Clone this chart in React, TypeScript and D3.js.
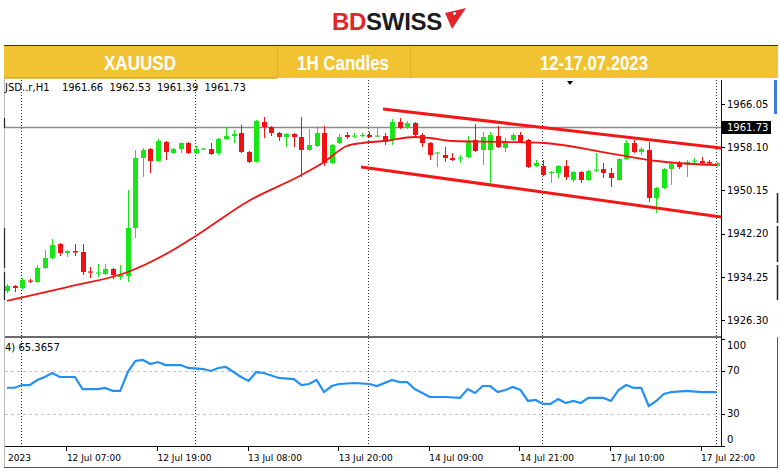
import React from "react";
import * as d3 from "d3";

// XAUUSD H1 candles, bar 0 .. 94
const opens = [
  1931.64, 1932.56, 1932.19, 1933.57, 1933.29, 1935.87, 1937.71, 1940.29, 1938.63, 1939.0,
  1938.81, 1935.23, 1934.86, 1934.77, 1935.69, 1934.21, 1934.4, 1943.23, 1956.11, 1957.77,
  1955.56, 1959.06, 1957.03, 1957.77, 1958.87, 1957.03, 1957.68, 1957.77, 1957.03, 1959.61,
  1960.16, 1960.71, 1957.22, 1955.38, 1962.74, 1961.82, 1960.71, 1959.98, 1960.53, 1959.98,
  1957.59, 1958.32, 1960.71, 1955.19, 1958.87, 1960.35, 1960.07, 1960.16, 1960.35, 1960.07,
  1960.16, 1959.43, 1962.74, 1961.63, 1962.55, 1960.35, 1958.87, 1956.94, 1956.67, 1956.11,
  1956.02, 1956.3, 1959.43, 1957.59, 1957.59, 1960.16, 1957.95, 1959.43, 1960.35, 1959.43,
  1954.64, 1954.64, 1953.35, 1953.35, 1954.64, 1952.06, 1953.54, 1952.06, 1953.81, 1954.09,
  1953.35, 1952.06, 1955.93, 1958.87, 1957.22, 1957.59, 1948.75, 1950.59, 1954.09, 1955.19,
  1954.82, 1955.47, 1955.56, 1955.38, 1954.64,
];
const closes = [
  1932.56, 1932.19, 1933.66, 1933.39, 1935.87, 1937.71, 1940.1, 1938.63, 1939.0, 1938.72,
  1935.13, 1935.04, 1935.04, 1935.69, 1934.58, 1934.58, 1943.23, 1956.11, 1957.59, 1955.56,
  1959.24, 1957.22, 1957.77, 1958.87, 1957.03, 1957.77, 1957.86, 1956.85, 1959.61, 1960.16,
  1960.53, 1957.22, 1955.38, 1962.92, 1961.82, 1960.71, 1959.98, 1960.53, 1959.98, 1957.59,
  1958.51, 1960.71, 1955.19, 1958.51, 1959.98, 1959.98, 1960.25, 1960.35, 1959.98, 1960.25,
  1959.06, 1962.74, 1961.63, 1962.55, 1960.35, 1958.87, 1956.67, 1957.13, 1956.11, 1955.75,
  1956.2, 1959.06, 1957.4, 1959.98, 1960.35, 1958.14, 1959.06, 1960.35, 1959.06, 1954.46,
  1955.19, 1952.98, 1953.54, 1954.64, 1952.62, 1953.54, 1952.06, 1953.72, 1953.99, 1953.35,
  1952.43, 1955.93, 1958.87, 1957.22, 1957.77, 1948.75, 1950.59, 1954.09, 1955.01, 1954.46,
  1955.38, 1955.65, 1955.19, 1955.1, 1955.19,
];
const highs = [
  1932.93, 1932.75, 1934.03, 1933.85, 1936.42, 1939.18, 1941.21, 1940.47, 1939.18, 1940.29,
  1940.29, 1936.05, 1936.61, 1936.61, 1935.87, 1936.42, 1950.22, 1957.59, 1957.95, 1957.95,
  1959.61, 1959.24, 1957.95, 1958.96, 1959.06, 1958.32, 1957.95, 1958.87, 1959.79, 1961.82,
  1961.27, 1962.19, 1957.4, 1963.11, 1963.66, 1962.0, 1960.9, 1960.71, 1960.71, 1963.66,
  1961.45, 1962.0, 1962.0, 1958.69, 1960.53, 1960.9, 1960.71, 1960.71, 1960.9, 1961.82,
  1960.71, 1963.29, 1963.47, 1962.92, 1962.74, 1960.71, 1959.06, 1957.22, 1958.14, 1957.03,
  1956.67, 1960.16, 1962.37, 1960.9, 1960.9, 1962.0, 1959.79, 1960.71, 1960.9, 1959.61,
  1955.75, 1955.75, 1953.72, 1954.82, 1955.75, 1953.72, 1953.72, 1953.9, 1957.03, 1955.19,
  1954.27, 1956.11, 1959.43, 1959.43, 1958.14, 1959.06, 1950.78, 1954.27, 1955.19, 1955.56,
  1955.75, 1956.11, 1956.3, 1955.75, 1955.38,
];
const lows = [
  1931.27, 1931.45, 1931.82, 1933.11, 1933.11, 1935.69, 1937.53, 1938.08, 1937.89, 1938.08,
  1934.58, 1934.03, 1934.21, 1934.58, 1933.85, 1933.66, 1933.29, 1941.39, 1952.62, 1953.35,
  1955.38, 1955.75, 1956.85, 1957.03, 1956.85, 1956.85, 1957.59, 1956.67, 1956.67, 1959.43,
  1958.87, 1957.03, 1955.19, 1955.28, 1959.79, 1960.16, 1959.24, 1958.14, 1958.14, 1952.62,
  1957.4, 1958.14, 1954.64, 1955.01, 1958.69, 1959.61, 1959.79, 1959.98, 1959.88, 1959.98,
  1958.51, 1958.51, 1961.45, 1961.45, 1960.16, 1958.14, 1955.75, 1954.46, 1955.38, 1955.56,
  1955.19, 1956.11, 1957.22, 1954.82, 1951.51, 1957.95, 1957.22, 1959.24, 1958.87, 1954.27,
  1954.46, 1952.8, 1951.51, 1952.43, 1952.06, 1951.7, 1951.51, 1951.88, 1953.54, 1952.43,
  1950.78, 1951.88, 1955.75, 1957.03, 1956.67, 1948.02, 1945.99, 1950.41, 1951.14, 1954.09,
  1952.62, 1954.82, 1955.01, 1954.82, 1954.46,
];

// moving average, read at these bars
const maIdx = [0, 8, 16, 22, 25, 32, 39, 42, 45, 47, 50, 54, 56, 59, 66, 71, 81, 86, 94];
const maVal = [
  1929.8, 1932.37, 1935.13, 1939.18, 1941.76, 1948.2, 1952.98, 1955.38, 1958.32, 1958.87,
  1959.24, 1959.98, 1959.79, 1959.24, 1959.06, 1958.87, 1956.67, 1955.56, 1954.82,
];

// channel lines [bar, price]
const upperChannel: [number, number][] = [[49.8, 1965.13], [94.7, 1957.95]];
const lowerChannel: [number, number][] = [[46.9, 1954.46], [94.7, 1945.25]];

// RSI(14)
const rsiIdx = [
  0, 1, 2, 3, 4, 5, 6, 7, 9, 10, 12, 13, 14, 15, 16, 17, 18, 19, 20, 21, 23, 24, 26, 27, 28, 29,
  31, 32, 33, 34, 36, 38, 39, 40, 41, 42, 43, 44, 46, 48, 49, 51, 52, 53, 54, 56, 58, 60, 61, 62,
  63, 64, 65, 66, 67, 68, 69, 70, 71, 72, 73, 74, 75, 76, 77, 79, 80, 81, 82, 83, 84, 85, 86, 87,
  88, 90, 92, 94,
];
const rsiVal = [
  54.2, 54.2, 56.7, 56.7, 61.4, 64.2, 67.9, 64.2, 64.2, 53.0, 53.0, 54.0, 51.2, 51.2, 68.8, 79.1,
  80.0, 76.3, 78.1, 75.3, 75.3, 72.6, 71.6, 69.8, 72.6, 73.5, 64.2, 60.5, 68.8, 67.9, 63.3, 62.3,
  56.7, 57.7, 61.4, 50.2, 55.8, 57.7, 58.6, 57.7, 55.8, 61.4, 59.5, 59.5, 53.0, 45.6, 45.6, 44.7,
  53.0, 49.3, 55.8, 55.8, 50.2, 52.1, 54.9, 52.1, 41.9, 42.8, 39.1, 39.1, 43.7, 40.0, 41.9, 40.0,
  44.7, 44.7, 41.9, 52.1, 56.7, 54.0, 54.0, 37.2, 41.9, 48.4, 50.2, 51.2, 50.2, 50.2,
];

const priceTicks = [1966.05, 1958.1, 1950.15, 1942.2, 1934.25, 1926.3];
const rsiTicks = [100, 70, 30, 0];
const rsiLevels = [70, 30];
const gridIdx = [2, 25, 48, 71, 94];
const xTickIdx = [8, 20, 32, 44, 56, 68, 80, 92];
const xTickLabels = [
  "12 Jul 07:00", "12 Jul 19:00", "13 Jul 08:00", "13 Jul 20:00",
  "14 Jul 09:00", "14 Jul 21:00", "17 Jul 10:00", "17 Jul 22:00",
];
const lastPrice = 1961.73;
const infoText = "JSD..r,H1  1961.66 1962.53 1961.39 1961.73";
const rsiText = "4) 65.3657";

const W = 780;
const H = 473;
const left = 5;
const axisX = 721;
const mainTop = 80;
const mainBottom = 337;
const rsiBottom = 446;

const UP = "#19e619";
const DOWN = "#f01212";
const FONT = "'DejaVu Sans', sans-serif";

export default function App() {
  const x = d3.scaleLinear().domain([0, 94]).range([7, 716.7]);
  const y = d3.scaleLinear().domain([1926.3, 1966.05]).range([320, 104]);
  const ry = d3.scaleLinear().domain([0, 100]).range([rsiBottom, 338.5]);

  const maPath = d3
    .line<number>()
    .x((_, i) => x(maIdx[i]))
    .y((d) => y(d))
    .curve(d3.curveMonotoneX)(maVal);
  const chanLine = d3
    .line<[number, number]>()
    .x((d) => x(d[0]))
    .y((d) => y(d[1]));
  const rsiPath = d3
    .line<number>()
    .x((_, i) => x(rsiIdx[i]))
    .y((d) => ry(d))(rsiVal);

  const crisp = (v: number) => Math.round(v) + 0.5;

  return (
    <div style={{ position: "absolute", left: 0, top: 0, width: W, height: H, background: "#fff" }}>
      <svg width={W} height={H} style={{ display: "block" }}>
        <defs>
          <clipPath id="mainClip">
            <rect x={left} y={mainTop} width={axisX - left} height={mainBottom - mainTop} />
          </clipPath>
          <clipPath id="axisClip">
            <rect x={axisX} y={mainTop} width={50} height={H - mainTop} />
          </clipPath>
        </defs>

        {/* logo */}
        <text x={332} y={30} fontFamily="'Liberation Sans', Arial, sans-serif" fontWeight={700}
          fontSize={24} letterSpacing={-0.3}>
          <tspan fill="#e3252b">BD</tspan>
          <tspan fill="#1c1c1c">SWISS</tspan>
        </text>
        <path d="M445,13 L466,8 L452,29 L449,22 Z" fill="#e3252b" />
        <path d="M453,13.5 h3 M454.5,12 v3" stroke="#fff" strokeWidth={1.3} />

        {/* header bar */}
        <line x1={4} x2={778} y1={45.5} y2={45.5} stroke="#333" strokeWidth={1} />
        <rect x={4} y={46} width={774} height={32} fill="#f1c232" />
        <line x1={4} x2={277} y1={78} y2={78} stroke="#d8a818" strokeWidth={1.5} />
        <line x1={277.5} x2={277.5} y1={46} y2={78} stroke="#e2b224" />
        <line x1={410.5} x2={410.5} y1={46} y2={78} stroke="#e2b224" />
        {[
          { t: "XAUUSD", cx: 140, w: 72 },
          { t: "1H Candles", cx: 343, w: 92 },
          { t: "12-17.07.2023", cx: 594, w: 108 },
        ].map((c) => (
          <text key={c.t} x={c.cx} y={70} textAnchor="middle" fill="#fff" fontWeight={700}
            fontFamily="'Liberation Sans', Arial, sans-serif" fontSize={20}
            textLength={c.w} lengthAdjust="spacingAndGlyphs">
            {c.t}
          </text>
        ))}

        {/* frame */}
        <line x1={4.5} x2={4.5} y1={78} y2={467} stroke="#bbb" />
        <line x1={4} x2={777} y1={467.5} y2={467.5} stroke="#555" />
        <line x1={777.5} x2={777.5} y1={337} y2={468} stroke="#555" />
        <rect x={774} y={80} width={3} height={34} fill="#3d7be0" />
        {[[193, 223], [226, 262], [265, 300]].map(([a, b]) => (
          <line key={a} x1={777.5} x2={777.5} y1={a} y2={b} stroke="#222" strokeWidth={1.5} />
        ))}
        {[[118, 128], [228, 268], [272, 300]].map(([a, b]) => (
          <line key={a} x1={4.5} x2={4.5} y1={a} y2={b} stroke="#222" strokeWidth={1.2} />
        ))}

        {/* vertical dotted grid */}
        {gridIdx.map((i) => (
          <line key={i} x1={crisp(x(i)) - 1} x2={crisp(x(i)) - 1} y1={mainTop} y2={rsiBottom}
            stroke="#333" strokeDasharray="1 2" />
        ))}

        {/* rsi level lines */}
        {rsiLevels.map((v) => (
          <line key={v} x1={left} x2={axisX} y1={crisp(ry(v))} y2={crisp(ry(v))}
            stroke="#c4c4c4" strokeDasharray="3 3" />
        ))}

        {/* last price line */}
        <line x1={left} x2={axisX} y1={y(lastPrice)} y2={y(lastPrice)} stroke="#8c8c8c" strokeWidth={1.5} />

        {/* candles */}
        <g clipPath="url(#mainClip)">
          {opens.map((o, i) => {
            const c = closes[i];
            const up = c >= o;
            const col = up ? UP : DOWN;
            const cx = x(i);
            const top = y(Math.max(o, c));
            const bot = y(Math.min(o, c));
            return (
              <g key={i}>
                <line x1={crisp(cx)} x2={crisp(cx)} y1={y(highs[i])} y2={y(lows[i])} stroke={col} strokeWidth={1} />
                <rect x={Math.round(cx) - 2} y={top} width={5} height={Math.max(1.2, bot - top)} fill={col} />
              </g>
            );
          })}
          <path d={maPath || ""} fill="none" stroke="#f01414" strokeWidth={1.8} />
          <path d={chanLine(upperChannel) || ""} fill="none" stroke="#f21818" strokeWidth={3} />
          <path d={chanLine(lowerChannel) || ""} fill="none" stroke="#f21818" strokeWidth={3} />
        </g>

        {/* panel borders */}
        <line x1={left} x2={axisX} y1={337} y2={337} stroke="#6a6a6a" strokeWidth={2} />
        <line x1={left} x2={axisX} y1={rsiBottom + 0.5} y2={rsiBottom + 0.5} stroke="#111" />
        <line x1={axisX + 0.5} x2={axisX + 0.5} y1={mainTop} y2={rsiBottom + 1} stroke="#111" />

        {/* rsi line */}
        <path d={rsiPath || ""} fill="none" stroke="#2390f5" strokeWidth={2.2} />

        {/* info texts */}
        <text x={5} y={91} fontFamily={FONT} fontSize={10} fill="#000" wordSpacing={3}
          style={{ whiteSpace: "pre" }}>
          {infoText}
        </text>
        <text x={5} y={351} fontFamily={FONT} fontSize={10} fill="#000">{rsiText}</text>
        <path d="M567,81 L573,81 L570,85 Z" fill="#000" />

        {/* price axis */}
        <g clipPath="url(#axisClip)">
          {priceTicks.map((p) => (
            <g key={p}>
              <line x1={axisX} x2={axisX + 4} y1={crisp(y(p))} y2={crisp(y(p))} stroke="#000" />
              <text x={727} y={y(p) + 3.7} fontFamily={FONT} fontSize={10} fill="#000">
                {p.toFixed(2)}
              </text>
            </g>
          ))}
          <rect x={722} y={y(lastPrice) - 6.5} width={56} height={13} fill="#000" />
          <text x={727} y={y(lastPrice) + 3.7} fontFamily={FONT} fontSize={10} fill="#fff">
            {lastPrice.toFixed(2)}
          </text>
          {rsiTicks.map((v) => (
            <g key={v}>
              <line x1={axisX} x2={axisX + 4} y1={crisp(ry(v))} y2={crisp(ry(v))} stroke="#000" />
              <text x={727} y={Math.min(443, Math.max(349, ry(v) + 3.7))} fontFamily={FONT}
                fontSize={10} fill="#000">
                {v}
              </text>
            </g>
          ))}
        </g>

        {/* time axis */}
        <text x={8} y={461} fontFamily={FONT} fontSize={9} fill="#000">2023</text>
        {xTickIdx.map((i, k) => (
          <g key={i}>
            <line x1={crisp(x(i)) - 1} x2={crisp(x(i)) - 1} y1={rsiBottom} y2={rsiBottom + 5} stroke="#000" />
            <text x={x(i) - 0.5} y={461} fontFamily={FONT} fontSize={9} fill="#000">
              {xTickLabels[k]}
            </text>
          </g>
        ))}
      </svg>
    </div>
  );
}
